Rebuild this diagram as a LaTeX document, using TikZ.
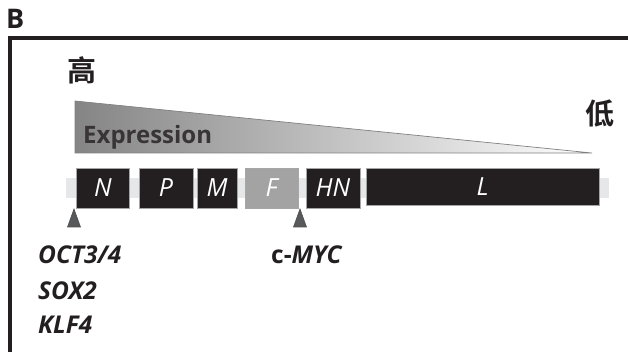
\documentclass[tikz,border=0pt]{standalone}
\usepackage{fontspec}
\setmainfont{Open Sans}
\newfontfamily\cjk{Noto Sans CJK SC}[BoldFont={Noto Sans CJK SC Bold}]
\definecolor{ink}{HTML}{231F20}
\definecolor{track}{HTML}{E6E7E8}
\definecolor{fgray}{HTML}{A3A3A3}
\definecolor{tri}{HTML}{58595B}
\tikzset{
  gbox/.style={draw=gray!70, line width=0.8pt, fill=ink, text=white, inner sep=0pt,
    font=\fontsize{25}{25}\selectfont\itshape},
  gene/.style={anchor=base west, inner sep=0pt, text=ink,
    font=\fontsize{24.5}{24.5}\selectfont\bfseries\itshape},
  marker/.style={draw=ink!80, line width=0.6pt, fill=tri}
}
\begin{document}
\begin{tikzpicture}[x=1pt,y=-1pt]
\useasboundingbox (0,0) rectangle (628,352);
% panel label
\node[anchor=base west, inner sep=0pt, text=ink, font=\fontsize{27}{27}\selectfont\bfseries] (lblB) at (6,29) {B};
% frame
\draw[ink, line width=3.5pt] (628,38) -- (10,38) -- (10,353);
% level labels
\node[inner sep=0pt, text=ink, font=\fontsize{29}{29}\selectfont\cjk\bfseries] (hi) at (82,70) {高};
\node[inner sep=0pt, text=ink, font=\fontsize{29}{29}\selectfont\cjk\bfseries] (lo) at (600,114) {低};
% expression wedge
\shade[left color=black!48, right color=white] (75,101) -- (592,153) -- (75,153) -- cycle;
\draw[black!50, line width=0.7pt] (75,101) -- (592,153) -- (75,153) -- cycle;
\node[anchor=base west, inner sep=0pt, text=ink!90, font=\fontsize{24}{24}\selectfont\bfseries] (expr) at (83,144) {Expression};
% track
\fill[track] (66,178) rectangle (609,198);
% gene boxes
\node[gbox, minimum width=53, minimum height=40] (N) at (103,188) {N};
\node[gbox, minimum width=54, minimum height=40] (P) at (166,188) {P};
\node[gbox, minimum width=40, minimum height=40] (M) at (217,188) {M};
\node[gbox, fill=fgray, minimum width=53, minimum height=40] (F) at (271.5,188) {F};
\node[gbox, minimum width=54, minimum height=40] (HN) at (333,188) {HN};
\node[gbox, minimum width=233, minimum height=37] (L) at (482.5,186.5) {L};
% markers
\draw[marker] (74,209) -- (80.5,227) -- (67.5,227) -- cycle;
\draw[marker] (300,209) -- (306.5,227) -- (293.5,227) -- cycle;
% gene labels
\node[gene] (oct) at (38,264) {OCT3/4};
\node[gene] (sox) at (38,299) {SOX2};
\node[gene] (klf) at (38,333) {KLF4};
\node[gene] (myc) at (271,264) {{\upshape c-}MYC};
\end{tikzpicture}
\end{document}
